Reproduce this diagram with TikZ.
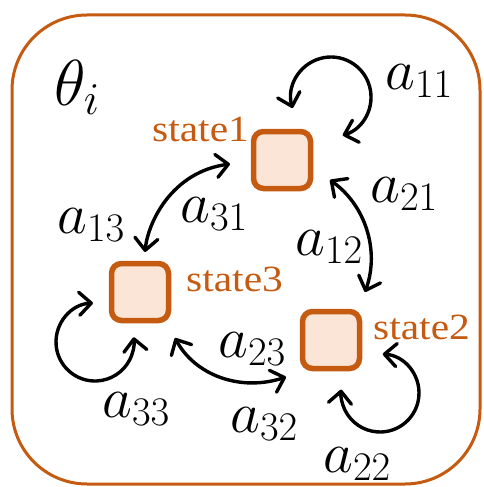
\RequirePackage{fix-cm}
\documentclass[tikz,border=0pt]{standalone}
\usepackage{fontspec}
\usetikzlibrary{arrows.meta}
\newfontfamily\statefont[FakeStretch=1.12]{Liberation Serif}
\definecolor{orng}{HTML}{C55A11}
\definecolor{peach}{HTML}{FBE5D6}
\tikzset{
  statebox/.style={draw=orng, fill=peach, line width=5.5pt, minimum size=57pt,
    rounded corners=10pt, inner sep=0pt},
  statelbl/.style={text=orng, inner sep=0pt, anchor=base west,
    font=\statefont\fontsize{37}{40}\selectfont},
  prob/.style={inner sep=0pt, anchor=base west, font=\fontsize{58}{62}\selectfont},
  barb/.tip={Straight Barb[length=12pt,width=23pt,round]},
  link/.style={draw, line width=3.4pt, line cap=round, barb-barb},
}
\begin{document}
\begin{tikzpicture}[x=1pt, y=1pt]
\useasboundingbox (0,0) rectangle (484,-487);

% frame of the parameter set
\draw[orng, line width=3pt, rounded corners=75pt] (12,-15) rectangle (480,-484);
\node[inner sep=0pt, anchor=base west, font=\fontsize{65}{70}\selectfont] (theta) at (54,-105) {$\theta_i$};

% hidden states
\node[statebox] (s1) at (282,-160) {};
\node[statebox] (s3) at (140,-292) {};
\node[statebox] (s2) at (331,-340) {};

\node[statelbl] (t1) at (152,-141) {state1};
\node[statelbl] (t3) at (186,-291) {state3};
\node[statelbl] (t2) at (373,-339) {state2};

% self transitions
\coordinate (l11) at ([shift={(49,63)}]s1.center);
\coordinate (l33) at ([shift={(-45,-50)}]s3.center);
\coordinate (l22) at ([shift={(49,-53)}]s2.center);
\draw[link] ([shift={(196:40pt)}]l11) arc[start angle=196, end angle=-73, radius=40pt];
\draw[link] ([shift={(93:39pt)}]l33) arc[start angle=93, end angle=367, radius=39pt];
\draw[link] ([shift={(86:39pt)}]l22) arc[start angle=86, end angle=-185, radius=39pt];

% transitions between states
\draw[link] ([shift={(5,40)}]s3.center) .. controls (148,-222) and (172,-172) .. ([shift={(-52,-4)}]s1.center);
\draw[link] ([shift={(48,-20)}]s1.center) .. controls (365,-205) and (380,-250) .. ([shift={(34,48)}]s2.center);
\draw[link] ([shift={(35,-46)}]s3.center) .. controls (195,-375) and (240,-392) .. ([shift={(-45,-37)}]s2.center);

% transition probabilities
\node[prob] (p11) at (385,-89) {$a_{11}$};
\node[prob] (p21) at (370,-202) {$a_{21}$};
\node[prob] (p12) at (295,-255) {$a_{12}$};
\node[prob] (p31) at (180,-222) {$a_{31}$};
\node[prob] (p13) at (57,-233) {$a_{13}$};
\node[prob] (p23) at (218,-357) {$a_{23}$};
\node[prob] (p32) at (230,-432) {$a_{32}$};
\node[prob] (p33) at (102,-417) {$a_{33}$};
\node[prob] (p22) at (323,-472) {$a_{22}$};
\end{tikzpicture}
\end{document}
